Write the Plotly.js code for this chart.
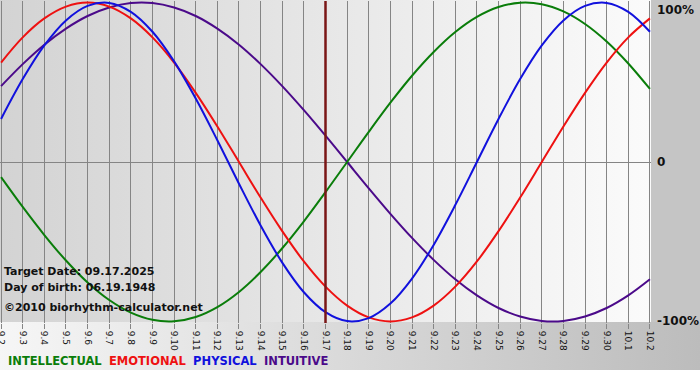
<!DOCTYPE html>
<html>
<head>
<meta charset="utf-8">
<script src="https://cdn.plot.ly/plotly-3.0.1.min.js"></script>
<style>
  html, body { margin: 0; padding: 0; background: #ffffff; }
  #chart {
    width: 700px; height: 380px;
    background:
      linear-gradient(to right, #d3d3d3, #fbfbfb) 0 0 / 651px 322px no-repeat,
      linear-gradient(#c5c5c5, #c5c5c5) 651px 0 / 49px 322px no-repeat,
      linear-gradient(to right, #f6f6f6, #bcbcbc) 0 322px / 700px 48px no-repeat,
      #ffffff;
  }
</style>
</head>
<body>
<div id="chart"></div>
<script>
// Day labels (Sept 2 .. Oct 2)
var dates = ['9.2','9.3','9.4','9.5','9.6','9.7','9.8','9.9','9.10','9.11','9.12','9.13','9.14','9.15','9.16','9.17','9.18','9.19','9.20','9.21','9.22','9.23','9.24','9.25','9.26','9.27','9.28','9.29','9.30','10.1','10.2'];

var physical = [0.270,0.520,0.731,0.888,0.979,0.998,0.942,0.817,0.631,0.398,0.136,-0.136,-0.398,-0.631,-0.817,-0.942,-0.998,-0.979,-0.888,-0.731,-0.520,-0.270,0.000,0.270,0.520,0.731,0.888,0.979,0.998,0.942,0.817];
var emotional = [0.624,0.782,0.901,0.975,1.000,0.975,0.901,0.782,0.624,0.434,0.223,0.000,-0.223,-0.434,-0.624,-0.782,-0.901,-0.975,-1.000,-0.975,-0.901,-0.782,-0.624,-0.434,-0.223,0.000,0.223,0.434,0.624,0.782,0.901];
var intellectual = [-0.095,-0.282,-0.458,-0.618,-0.756,-0.866,-0.945,-0.990,-0.999,-0.972,-0.910,-0.815,-0.690,-0.541,-0.372,-0.189,0.000,0.189,0.372,0.541,0.690,0.815,0.910,0.972,0.999,0.990,0.945,0.866,0.756,0.618,0.458];
var intuitive = [0.476,0.614,0.736,0.837,0.916,0.969,0.997,0.997,0.969,0.916,0.837,0.736,0.614,0.476,0.325,0.165,0.000,-0.165,-0.325,-0.476,-0.614,-0.736,-0.837,-0.916,-0.969,-0.997,-0.997,-0.969,-0.916,-0.837,-0.736];

var targetDay = '9.17';
var targetText = 'Target Date: 09.17.2025';
var birthText = 'Day of birth: 06.19.1948';
var copyText = '\u00A92010 biorhythm-calculator.net';
var yTickVals = [1, 0, -1];
var yTickText = ['100%', '0', '-100%'];

var seriesNames = ['INTELLECTUAL', 'EMOTIONAL', 'PHYSICAL', 'INTUITIVE'];
var seriesColors = ['#0a7d0a', '#ee1111', '#1111dd', '#4b0a8a'];
var seriesData = [intellectual, emotional, physical, intuitive];

var traces = [];
// draw order: intuitive, intellectual, emotional, physical (physical on top)
[3, 0, 1, 2].forEach(function (k) {
  traces.push({
    type: 'scatter', mode: 'lines',
    x: dates, y: seriesData[k], name: seriesNames[k],
    line: { color: seriesColors[k], width: 2, shape: 'spline', smoothing: 1 },
    hoverinfo: 'skip', showlegend: false
  });
});

var font = 'DejaVu Sans, Verdana, sans-serif';
var annotations = [];
yTickVals.forEach(function (v, i) {
  annotations.push({
    xref: 'paper', yref: 'y', x: 1, y: v, xanchor: 'left', yanchor: v === 1 ? 'top' : 'middle',
    xshift: 4, yshift: v === 1 ? 2 : 0,
    text: '<b>' + yTickText[i] + '</b>', showarrow: false,
    font: { family: font, size: 12, color: '#111111' }
  });
});
[[targetText, 271], [birthText, 287], [copyText, 307]].forEach(function (t) {
  annotations.push({
    xref: 'paper', yref: 'paper', x: 0, y: 1 - (t[1] - 1) / 322, xanchor: 'left', yanchor: 'middle',
    xshift: 2, text: '<b>' + t[0] + '</b>', showarrow: false,
    font: { family: font, size: 11, color: '#111111' }
  });
});
var legendHtml = seriesNames.map(function (n, i) {
  return '<span style="color:' + seriesColors[i] + '"><b>' + n + '</b></span>';
}).join('&nbsp;&nbsp;');
annotations.push({
  xref: 'paper', yref: 'paper', x: 0, y: 1 - (361 - 1) / 322, xanchor: 'left', yanchor: 'middle',
  xshift: 6, text: legendHtml, showarrow: false,
  font: { family: font, size: 11.5, color: '#000000' }
});

var layout = {
  width: 700, height: 380,
  margin: { l: 0, r: 49, t: 1, b: 57, pad: 0 },
  paper_bgcolor: 'rgba(0,0,0,0)', plot_bgcolor: 'rgba(0,0,0,0)',
  showlegend: false,
  xaxis: {
    type: 'category', range: [-0.05, 30.05],
    showgrid: true, gridcolor: '#858585', gridwidth: 1,
    zeroline: false, showline: false,
    ticks: 'outside', ticklen: 5, tickcolor: '#858585',
    tickangle: 90, tickfont: { family: font, size: 9, color: '#111111' },
    fixedrange: true
  },
  yaxis: {
    range: [-1.01, 1.01], showgrid: false, showticklabels: false,
    zeroline: true, zerolinecolor: '#858585', zerolinewidth: 1,
    showline: false, ticks: '', fixedrange: true
  },
  shapes: [{
    type: 'line', xref: 'x', yref: 'paper',
    x0: dates.indexOf(targetDay), x1: dates.indexOf(targetDay), y0: 0, y1: 1,
    line: { color: '#7a1616', width: 2.5 }, layer: 'above'
  }],
  annotations: annotations
};

Plotly.newPlot('chart', traces, layout, { displayModeBar: false, staticPlot: true });
</script>
</body>
</html>
